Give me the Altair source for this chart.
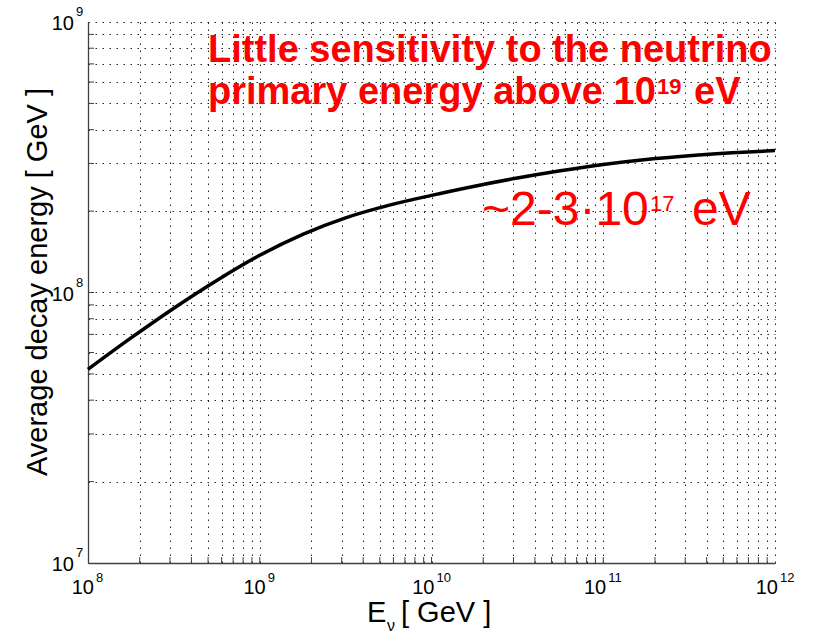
import altair as alt
import pandas as pd

# ---- data ----
energy_nu = [1.0e8, 1.78e8, 3.16e8, 5.62e8, 1.0e9, 1.78e9, 3.16e9, 5.62e9, 1.0e10,
             1.78e10, 3.16e10, 5.62e10, 1.0e11, 1.78e11, 3.16e11, 5.62e11, 1.0e12]
avg_decay = [5.200e7, 6.792e7, 8.750e7, 1.108e8, 1.373e8, 1.641e8, 1.888e8, 2.099e8, 2.286e8,
             2.472e8, 2.649e8, 2.818e8, 2.975e8, 3.105e8, 3.206e8, 3.285e8, 3.346e8]

x_decades = [8, 9, 10, 11, 12]
y_decades = [7, 8, 9]
mantissas = [1, 2, 3, 4, 5, 6, 7, 8, 9]

x_grid = [m * 10.0 ** e for e in x_decades[:-1] for m in mantissas] + [10.0 ** x_decades[-1]]
y_grid = [m * 10.0 ** e for e in y_decades[:-1] for m in mantissas] + [10.0 ** y_decades[-1]]

W, H = 687, 541
FONT = "Liberation Sans"
RED = "#ff0000"

xs = alt.Scale(type="log", domain=[1e8, 1e12], nice=False)
ys = alt.Scale(type="log", domain=[1e7, 1e9], nice=False)

ax_common = dict(grid=True, labels=False, ticks=False, title=None, domain=True,
                 gridDash=[1.5, 5.5], gridColor="#000000", gridOpacity=0.85, gridWidth=1,
                 domainColor="#404040", domainWidth=1.3)
x_axis = alt.Axis(values=x_grid, **ax_common)
y_axis = alt.Axis(values=y_grid, **ax_common)

curve_df = pd.DataFrame({"E": energy_nu, "D": avg_decay})
curve = alt.Chart(curve_df).mark_line(color="black", strokeWidth=3.5, interpolate="monotone").encode(
    x=alt.X("E:Q", scale=xs, axis=x_axis),
    y=alt.Y("D:Q", scale=ys, axis=y_axis),
)

# inward ticks
xt_df = pd.DataFrame({"E": x_grid[1:-1]})
yt_df = pd.DataFrame({"D": y_grid[1:-1]})
x_ticks = alt.Chart(xt_df).mark_rule(color="#404040", strokeWidth=1).encode(
    x=alt.X("E:Q", scale=xs, axis=x_axis), y=alt.value(H), y2=alt.value(H - 6))
y_ticks = alt.Chart(yt_df).mark_rule(color="#404040", strokeWidth=1).encode(
    y=alt.Y("D:Q", scale=ys, axis=y_axis), x=alt.value(0), x2=alt.value(6))

# tick labels (10 with exponent)
xl1 = pd.DataFrame({"E": [10.0 ** e for e in x_decades if e < 10],
                    "b": ["10" for e in x_decades if e < 10],
                    "p": [str(e) for e in x_decades if e < 10]})
xl2 = pd.DataFrame({"E": [10.0 ** e for e in x_decades if e >= 10],
                    "b": ["10" for e in x_decades if e >= 10],
                    "p": [str(e) for e in x_decades if e >= 10]})
layers_xlab = []
for df, dxb, dxp in [(xl1, 6, 8), (xl2, 3, 5)]:
    layers_xlab.append(alt.Chart(df).mark_text(font=FONT, fontSize=20, align="right", baseline="alphabetic",
                                               dx=dxb, color="black").encode(
        x=alt.X("E:Q", scale=xs, axis=x_axis), y=alt.value(H + 31), text="b:N"))
    layers_xlab.append(alt.Chart(df).mark_text(font=FONT, fontSize=13, align="left", baseline="alphabetic",
                                               dx=dxp, color="black").encode(
        x=alt.X("E:Q", scale=xs, axis=x_axis), y=alt.value(H + 19), text="p:N"))

yl = pd.DataFrame({"D": [10.0 ** e for e in y_decades], "b": ["10"] * len(y_decades),
                   "p": [str(e) for e in y_decades]})
ylab_b = alt.Chart(yl).mark_text(font=FONT, fontSize=20, align="right", baseline="alphabetic",
                                 dy=8, color="black").encode(
    y=alt.Y("D:Q", scale=ys, axis=y_axis), x=alt.value(-14), text="b:N")
ylab_p = alt.Chart(yl).mark_text(font=FONT, fontSize=13, align="left", baseline="alphabetic",
                                 dy=-6, color="black").encode(
    y=alt.Y("D:Q", scale=ys, axis=y_axis), x=alt.value(-12), text="p:N")


def txt(s, x, y, size, color="black", bold=False, align="left", angle=0):
    kw = dict(font=FONT, fontSize=size, align=align, baseline="alphabetic", color=color,
              fontWeight="bold" if bold else "normal")
    if angle:
        kw["angle"] = angle
    return alt.Chart(pd.DataFrame({"t": [s]})).mark_text(**kw).encode(
        x=alt.value(x), y=alt.value(y), text="t:N")


# axis titles
y_title = txt("Average decay energy [ GeV ]", -41, 260, 29, angle=270, align="center")
x_title_e = txt("E", 279, 600, 29)
x_title_nu = txt("ν", 299, 609, 16)
x_title_u = txt("[ GeV ]", 313, 600, 29)

# annotations
ann1 = txt("Little sensitivity to the neutrino", 120, 40, 38, color=RED, bold=True)
ann2 = txt("primary energy above 10", 120, 82, 38, color=RED, bold=True)
ann2e = txt("19", 569, 72, 22, color=RED, bold=True)
ann2u = txt("eV", 606, 82, 38, color=RED, bold=True)
ann3 = txt("~2-3·10", 394, 203, 48, color=RED)
ann3e = txt("17", 562, 189, 22, color=RED)
ann3u = txt("eV", 604, 203, 48, color=RED)

chart = alt.layer(
    curve, x_ticks, y_ticks, *layers_xlab, ylab_b, ylab_p,
    y_title, x_title_e, x_title_nu, x_title_u,
    ann1, ann2, ann2e, ann2u, ann3, ann3e, ann3u,
).properties(
    width=W, height=H,
    autosize=alt.AutoSizeParams(type="none"),
    padding={"left": 88, "top": 22, "right": 41, "bottom": 71},
    background="white",
).configure_view(stroke=None)

chart.save("out.html", embed_options={"renderer": "svg", "actions": False})
